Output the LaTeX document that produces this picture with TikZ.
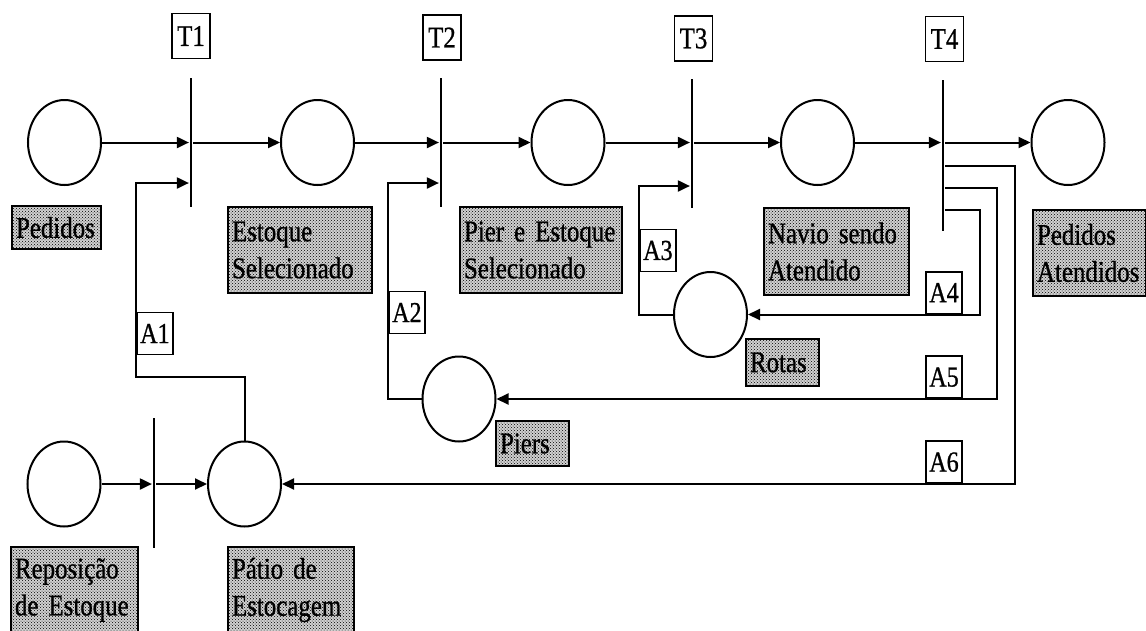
\documentclass[tikz,border=0pt]{standalone}
\usepackage{fontspec}
\setmainfont{Liberation Serif}
\newfontfamily\lblfont[FakeStretch=0.83,FakeBold=0.8]{Liberation Serif}
\usetikzlibrary{shapes.geometric,arrows.meta,patterns}

\begin{document}
\begin{tikzpicture}[x=1pt,y=-1pt,
  line width=2pt,
  place/.style={draw, ellipse, minimum width=73pt, minimum height=85pt, inner sep=0pt, line width=2pt},
  bar/.style={fill=black, draw=none, inner sep=0pt, minimum width=2.2pt},
  arr/.style={-{Triangle[length=12pt,width=11pt]}},
  tname/.style={draw, line width=1.8pt, fill=white, minimum width=38pt, minimum height=45pt, inner sep=0pt,
    font=\lblfont\fontsize{30}{36}\selectfont},
  aname/.style={draw, line width=1.8pt, fill=white, minimum width=36pt, minimum height=42pt, inner sep=0pt,
    font=\lblfont\fontsize{29}{36}\selectfont},
  tag/.style={draw, line width=2pt, preaction={fill=black!18}, pattern=crosshatch dots,
    anchor=north west, inner xsep=4pt, inner ysep=0pt, align=left,
    font=\lblfont\fontsize{30}{37}\selectfont},
]
\useasboundingbox (0,0) rectangle (1146,630);
\fill[white] (0,0) rectangle (1146,630);
\clip (0,0) rectangle (1146,630);

% places
\node[place] (Ped) at (64.5,142.5) {};
\node[place] (Est) at (317.5,142.5) {};
\node[place] (PES) at (568,142.5) {};
\node[place] (Nav) at (817.5,142.5) {};
\node[place] (Ate) at (1068,142.5) {};
\node[place] (Rot) at (710.5,314.5) {};
\node[place] (Pie) at (459,399) {};
\node[place] (Rep) at (64,484) {};
\node[place] (Pat) at (244.5,484) {};

% transitions
\node[bar, minimum height=129pt] (T1) at (191,142.5) {};
\node[bar, minimum height=129pt] (T2) at (441,142.5) {};
\node[bar, minimum height=129pt] (T3) at (692,143.5) {};
\node[bar, minimum height=151pt] (T4) at (943,155.5) {};
\node[bar, minimum height=130pt] (T0) at (154,483) {};

% transition names
\node[tname] (T1n) at (191,36) {T1};
\node[tname] (T2n) at (442,37.5) {T2};
\node[tname] (T3n) at (693.5,38.5) {T3};
\node[tname] (T4n) at (944.5,39) {T4};

% main flow
\draw[arr] (Ped) -- (T1.west |- Ped);
\draw[arr] (T1.east |- Est) -- (Est);
\draw[arr] (Est) -- (T2.west |- Est);
\draw[arr] (T2.east |- PES) -- (PES);
\draw[arr] (PES) -- (T3.west |- PES);
\draw[arr] (T3.east |- Nav) -- (Nav);
\draw[arr] (Nav) -- (T4.west |- Nav);
\draw[arr] (T4.east |- Ate) -- (Ate);

% stock replenishment
\draw[arr] (Rep) -- (T0.west |- Rep);
\draw[arr] (T0.east |- Pat) -- (Pat);

% resource arcs into the transitions
\coordinate (c1) at (136,377);
\coordinate (c2) at (388,183);
\coordinate (c3) at (639,186);
\draw[arr] (Pat.north) |- (c1) |- ([yshift=-40.5pt]T1.west);
\draw[arr] (Pie.west) -| (c2) -- (T2.west |- c2);
\draw[arr] (Rot.west) -| (c3) -- (T3.west |- c3);

% resources released by T4
\coordinate (c4) at (980,210);
\coordinate (c5) at (997,188);
\coordinate (c6) at (1015,166);
\draw[arr] (T4.east |- c4) -- (c4) |- (Rot.east);
\draw[arr] (T4.east |- c5) -- (c5) |- (Pie.east);
\draw[arr] (T4.east |- c6) -- (c6) |- (Pat.east);

% arc names
\node[aname, anchor=west] (A1) at (136,333.5) {A1};
\node[aname, anchor=west] (A2) at (388,312.5) {A2};
\node[aname, anchor=west] (A3) at (639,250.5) {A3};
\node[aname, anchor=south] (A4) at (944,314.5) {A4};
\node[aname, anchor=south] (A5) at (944,399) {A5};
\node[aname, anchor=south] (A6) at (944,484) {A6};

% place descriptions
\node[tag, text width=81pt, minimum height=43pt] (LPed) at (11,205) {\mbox{Pedidos}};
\node[tag, text width=136pt, minimum height=86pt] (LEst) at (227,206) {\mbox{Estoque}\\\mbox{Selecionado}};
\node[tag, text width=154pt, minimum height=86pt] (LPES) at (459,206) {\mbox{Pier e Estoque}\\\mbox{Selecionado}};
\node[tag, text width=137pt, minimum height=87pt] (LNav) at (763,207) {\mbox{Navio sendo}\\\mbox{Atendido}};
\node[tag, text width=105pt, minimum height=86pt] (LAte) at (1032,209) {\mbox{Pedidos}\\\mbox{Atendidos}};
\node[tag, text width=65pt, minimum height=47pt] (LRot) at (745,338) {\mbox{Rotas}};
\node[tag, text width=65pt, minimum height=45pt] (LPie) at (495,420) {\mbox{Piers}};
\node[tag, text width=119pt, minimum height=86pt] (LRep) at (10,546) {\mbox{Reposição}\\\mbox{de Estoque}};
\node[tag, text width=118pt, minimum height=86pt] (LPat) at (227,546) {\mbox{Pátio de}\\\mbox{Estocagem}};
\end{tikzpicture}
\end{document}
